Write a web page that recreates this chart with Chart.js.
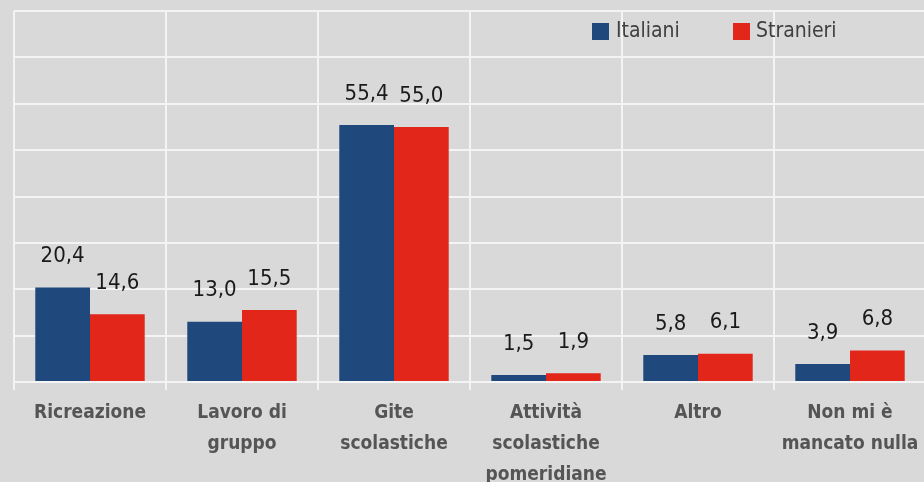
<!DOCTYPE html>
<html>
<head>
<meta charset="utf-8">
<script src="https://cdn.jsdelivr.net/npm/chart.js@4/dist/chart.umd.min.js"></script>
<style>
  html, body { margin: 0; padding: 0; background: #d9d9d9; overflow: hidden; }
  #wrap { width: 930px; height: 482px; }
</style>
</head>
<body>
<div id="wrap"><canvas id="canvas"></canvas></div>
<script>
const categories = [
  'Ricreazione',
  ['Lavoro di', 'gruppo'],
  ['Gite', 'scolastiche'],
  ['Attività', 'scolastiche', 'pomeridiane'],
  'Altro',
  ['Non mi è', 'mancato nulla'],
]
const italiani = [20.4, 13.0, 55.4, 1.5, 5.8, 3.9]
const stranieri = [14.6, 15.5, 55.0, 1.9, 6.1, 6.8]

const narrow = '"Liberation Sans Narrow", "DejaVu Sans Condensed", "Liberation Sans", sans-serif'

// value labels above the bars + legend inside the plot, top right
const extras = {
  id: 'extras',
  afterDatasetsDraw(chart) {
    const ctx = chart.ctx
    ctx.save()
    ctx.font = '22px ' + narrow
    ctx.fillStyle = '#1a1a1a'
    ctx.textAlign = 'center'
    ctx.textBaseline = 'middle'
    chart.data.datasets.forEach((ds, i) => {
      chart.getDatasetMeta(i).data.forEach((bar, j) => {
        ctx.fillText(ds.data[j].toFixed(1).replace('.', ','), bar.x, bar.y - 31)
      })
    })

    const items = [[592, 616], [733, 756]]
    ctx.font = '21px ' + narrow
    ctx.textAlign = 'left'
    chart.data.datasets.forEach((ds, i) => {
      ctx.fillStyle = ds.backgroundColor
      ctx.fillRect(items[i][0], 23, 17, 17)
      ctx.fillStyle = '#404040'
      ctx.fillText(ds.label, items[i][1], 32)
    })
    ctx.restore()
  }
}

const data = {
  labels: categories,
  datasets: [
    { label: 'Italiani', backgroundColor: '#1f497d', data: italiani },
    { label: 'Stranieri', backgroundColor: '#e3261a', data: stranieri },
  ],
}

const config = {
  type: 'bar',
  data: data,
  plugins: [extras],
  options: {
    responsive: true,
    maintainAspectRatio: false,
    animation: false,
    layout: { padding: { left: 14, top: 11, right: 4, bottom: 0 } },
    datasets: { bar: { categoryPercentage: 0.72, barPercentage: 1 } },
    plugins: { legend: { display: false }, tooltip: { enabled: false } },
    scales: {
      x: {
        grid: { color: '#f4f4f4', lineWidth: 2, tickLength: 8, offset: true },
        border: { color: '#f4f4f4', width: 2 },
        ticks: {
          color: '#555555',
          font: { family: narrow, size: 19, weight: 'bold', lineHeight: 1.63 },
          padding: 8,
          maxRotation: 0,
          autoSkip: false,
        },
        afterFit(scale) { scale.height = 100 },
      },
      y: {
        min: 0,
        max: 80,
        ticks: { display: false, stepSize: 10 },
        grid: { color: '#f4f4f4', lineWidth: 2, drawTicks: false },
        border: { display: false },
      },
    },
  },
}

const canvas = document.getElementById('canvas')
const chart = new Chart(canvas, config)
</script>
</body>
</html>
